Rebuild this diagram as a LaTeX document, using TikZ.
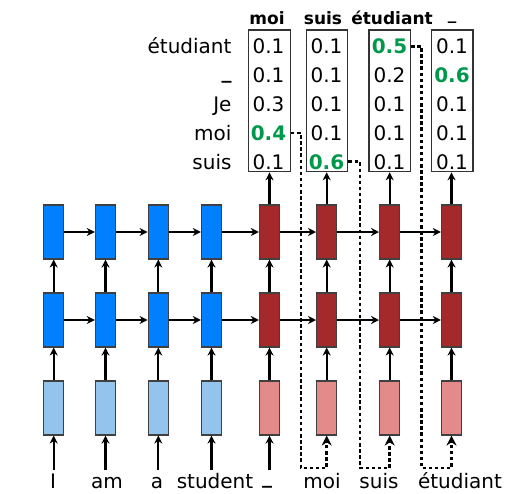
\documentclass[tikz,border=0pt]{standalone}
\usepackage{fontspec}
\setmainfont{DejaVu Sans}
\usetikzlibrary{arrows.meta}
\definecolor{encdark}{HTML}{0080FF}
\definecolor{enclight}{HTML}{94C4EE}
\definecolor{decdark}{HTML}{A3292A}
\definecolor{declight}{HTML}{E38B8B}
\definecolor{hl}{HTML}{00994C}
\definecolor{edge}{HTML}{404040}
\begin{document}
\begin{tikzpicture}[x=1pt,y=-1pt,
  cell/.style={draw=edge, line width=1.1pt, minimum width=20.3pt, minimum height=54pt, inner sep=0pt},
  enc/.style={cell, fill=encdark},
  encin/.style={cell, fill=enclight},
  dec/.style={cell, fill=decdark},
  decin/.style={cell, fill=declight},
  probbox/.style={draw=black!80, line width=1.3pt, minimum width=41.5pt, minimum height=141.7pt, inner sep=0pt},
  txt/.style={font=\fontsize{20}{24}\selectfont, inner sep=0pt, text height=14.6pt, text depth=0pt},
  head/.style={font=\fontsize{17}{20}\selectfont\bfseries, inner sep=0pt, anchor=base},
  val/.style={txt, anchor=base},
  hlval/.style={txt, anchor=base, font=\fontsize{20}{24}\selectfont\bfseries, text=hl},
  arr/.style={-{Stealth[length=8pt,width=8pt]}, line width=2.2pt},
  dotarr/.style={line width=2.7pt, dash pattern=on 3.5pt off 2.6pt, -{Stealth[length=10pt,width=10pt]}}
]
\useasboundingbox (0,0) rectangle (524,493);
\newcommand{\usc}{\raisebox{4.5pt}{\textbf{\_}}}

% encoder / decoder cells
\foreach \i/\x in {1/53.7,2/105.5,3/158.3,4/211.5}{
  \node[enc]   (t\i) at (\x,232) {};
  \node[enc]   (m\i) at (\x,320) {};
  \node[encin] (b\i) at (\x,408) {};
}
\foreach \i/\x in {5/269.5,6/326.7,7/389.7,8/451.5}{
  \node[dec]   (t\i) at (\x,232) {};
  \node[dec]   (m\i) at (\x,320) {};
  \node[decin] (b\i) at (\x,408) {};
}

% probability boxes
\node[probbox] (p1) at (269.5,100.8) {};
\node[probbox] (p2) at (327,100.8) {};
\node[probbox] (p3) at (389.7,100.8) {};
\node[probbox] (p4) at (452.2,100.8) {};

% headers
\node[head] (h1) at (267,24) {moi};
\node[head] (h2) at (323,24) {suis};
\node[head] (h3) at (392,24) {étudiant};
\node[head] (h4) at (452,24) {\usc};

% row labels
\node[txt, anchor=base east] (l1) at (231.7,53.6) {étudiant};
\node[txt, anchor=base east] (l2) at (231.7,82.6) {\usc};
\node[txt, anchor=base east] (l3) at (231.7,111.5) {Je};
\node[txt, anchor=base east] (l4) at (231.7,140.3) {moi};
\node[txt, anchor=base east] (l5) at (231.7,169.1) {suis};

% values column 1
\node[val]   (v11) at (268.5,53.6) {0.1};
\node[val]   (v12) at (268.5,82.6) {0.1};
\node[val]   (v13) at (268.5,111.5) {0.3};
\node[hlval] (v14) at (268.5,140.3) {0.4};
\node[val]   (v15) at (268.5,169.1) {0.1};
% column 2
\node[val]   (v21) at (326.5,53.6) {0.1};
\node[val]   (v22) at (326.5,82.6) {0.1};
\node[val]   (v23) at (326.5,111.5) {0.1};
\node[val]   (v24) at (326.5,140.3) {0.1};
\node[hlval] (v25) at (326.5,169.1) {0.6};
% column 3
\node[hlval] (v31) at (389.5,53.6) {0.5};
\node[val]   (v32) at (389.5,82.6) {0.2};
\node[val]   (v33) at (389.5,111.5) {0.1};
\node[val]   (v34) at (389.5,140.3) {0.1};
\node[val]   (v35) at (389.5,169.1) {0.1};
% column 4
\node[val]   (v41) at (452,53.6) {0.1};
\node[hlval] (v42) at (452,82.6) {0.6};
\node[val]   (v43) at (452,111.5) {0.1};
\node[val]   (v44) at (452,140.3) {0.1};
\node[val]   (v45) at (452,169.1) {0.1};

% input words
\node[txt, anchor=base] (w1) at (53,488) {I};
\node[txt, anchor=base] (w2) at (107,488) {am};
\node[txt, anchor=base] (w3) at (157,488) {a};
\node[txt, anchor=base] (w4) at (215,488) {student};
\node[txt, anchor=base] (w5) at (267,488) {\usc};
\node[txt, anchor=base] (w6) at (322,488) {moi};
\node[txt, anchor=base] (w7) at (379,488) {suis};
\node[txt, anchor=base] (w8) at (460,488) {étudiant};

% horizontal recurrences
\foreach \i [evaluate=\i as \j using int(\i+1)] in {1,...,7}{
  \draw[arr] (t\i.east) -- (t\j.west);
  \draw[arr] (m\i.east) -- (m\j.west);
}
% vertical
\foreach \i in {1,...,8}{
  \draw[arr] (b\i.north) -- (m\i.south);
  \draw[arr] (m\i.north) -- (t\i.south);
}
\draw[arr] (t5.north) -- (p1.south -| t5.north);
\draw[arr] (t6.north) -- (p2.south -| t6.north);
\draw[arr] (t7.north) -- (p3.south -| t7.north);
\draw[arr] (t8.north) -- (p4.south -| t8.north);

% word inputs
\foreach \i in {1,...,5}{
  \draw[arr] ([yshift=3pt]w\i.north -| b\i.south) -- (b\i.south);
}

% feedback (dotted)
\coordinate (d1) at (301,468);
\coordinate (d2) at (360,468);
\coordinate (d3) at (421.5,468);
\draw[dotarr] (p1.east |- v14.center) -- (d1 |- v14.center) -- (d1) -- (b6.south |- d1) -- (b6.south);
\draw[dotarr] (p2.east |- v25.center) -- (d2 |- v25.center) -- (d2) -- (b7.south |- d2) -- (b7.south);
\draw[dotarr] (p3.east |- v31.center) -- (d3 |- v31.center) -- (d3) -- (b8.south |- d3) -- (b8.south);
\end{tikzpicture}
\end{document}
